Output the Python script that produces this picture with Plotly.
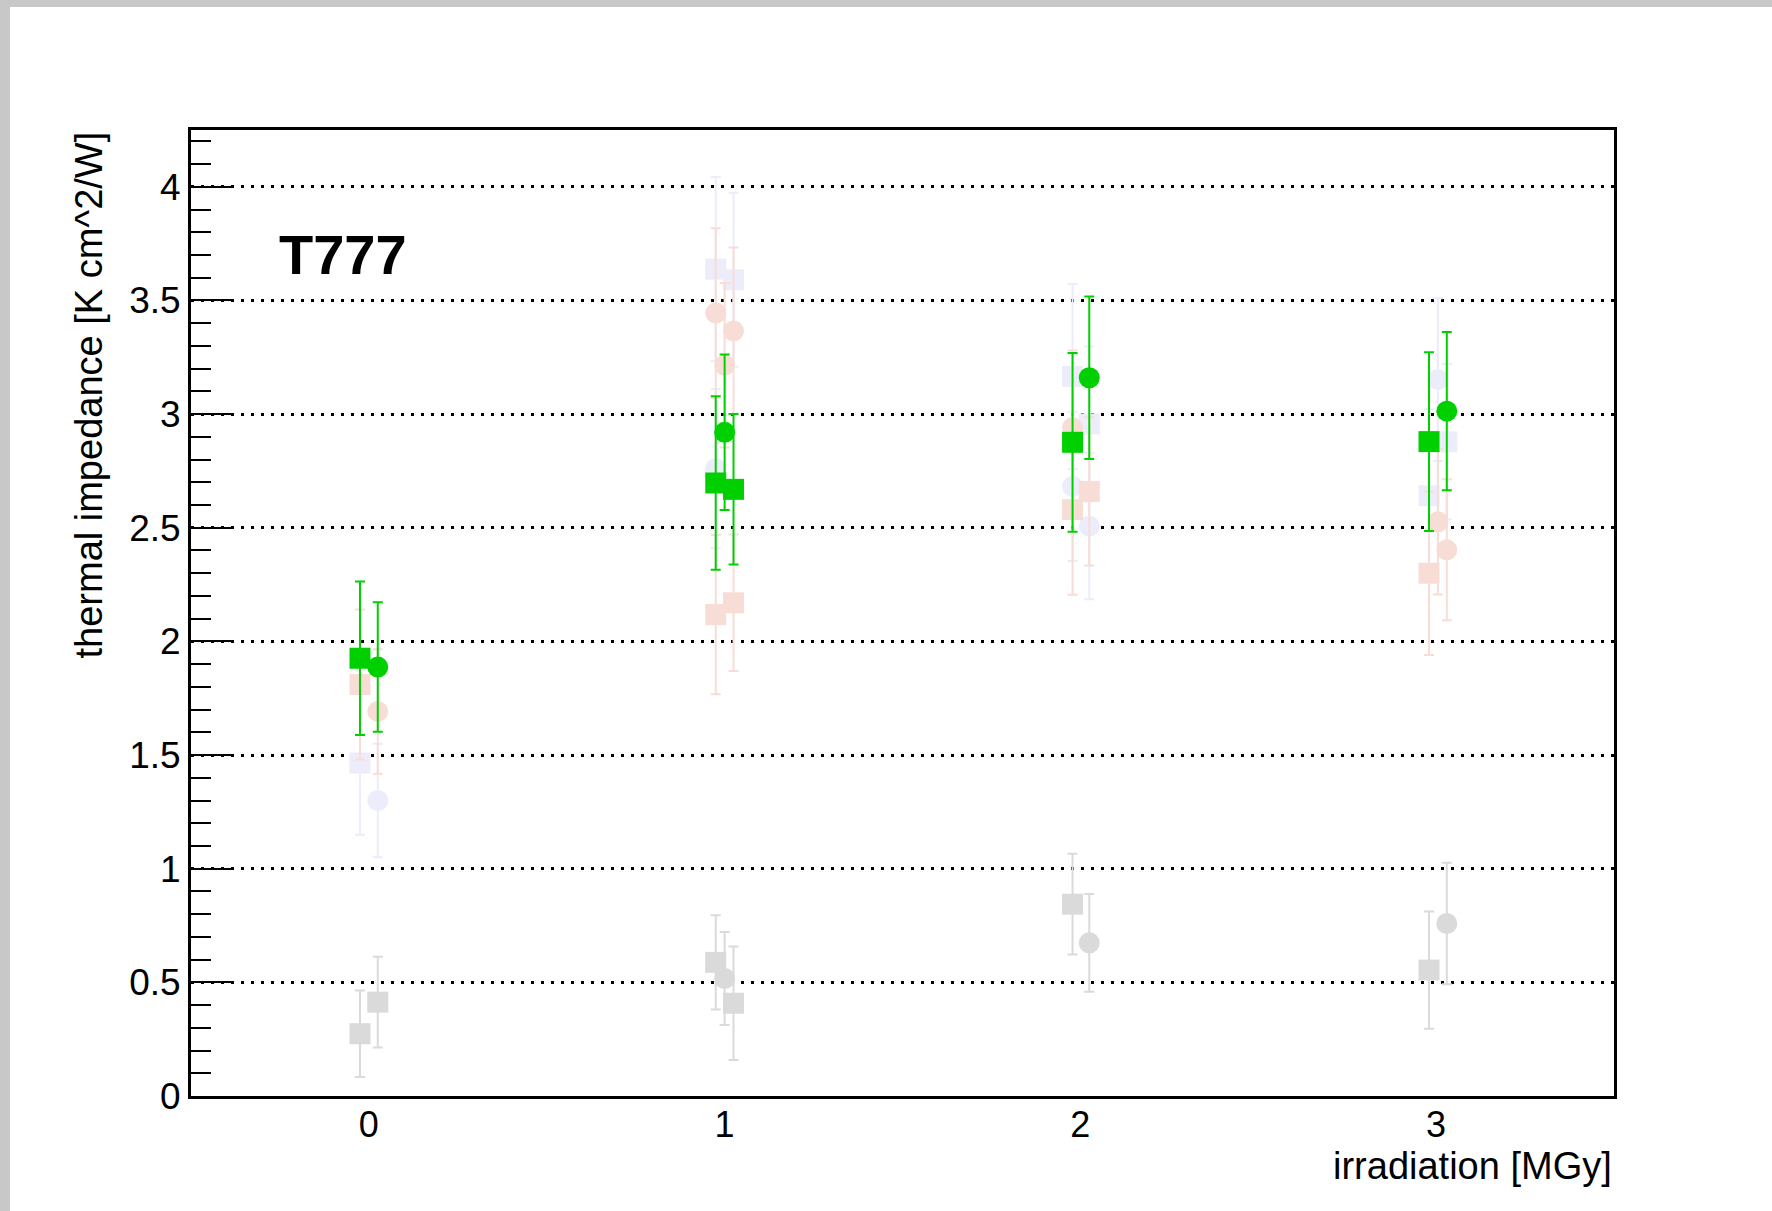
import plotly.graph_objects as go

# Irradiation dose positions (MGy) with small offsets per sample, values and errors
# T777 (highlighted)
t777_sq_x = [-0.025, 0.975, 1.025, 1.978, 2.98]
t777_sq_y = [1.926, 2.697, 2.669, 2.876, 2.879]
t777_sq_e = [0.338, 0.382, 0.331, 0.393, 0.393]

t777_ci_x = [0.025, 1.0, 2.025, 3.03]
t777_ci_y = [1.887, 2.920, 3.160, 3.013]
t777_ci_e = [0.285, 0.342, 0.357, 0.348]

# Other materials, drawn faded
red_sq_x = [-0.025, 0.975, 1.025, 1.978, 2.025, 2.98]
red_sq_y = [1.810, 2.118, 2.170, 2.580, 2.660, 2.300]
red_sq_e = [0.330, 0.350, 0.300, 0.375, 0.326, 0.360]

red_ci_x = [0.025, 0.975, 1.0, 1.025, 1.978, 3.005, 3.03]
red_ci_y = [1.692, 3.445, 3.215, 3.366, 2.940, 2.526, 2.403]
red_ci_e = [0.274, 0.373, 0.362, 0.367, 0.340, 0.320, 0.310]

blue_sq_x = [-0.025, 0.975, 1.025, 1.978, 2.025, 2.98, 3.03]
blue_sq_y = [1.465, 3.638, 3.591, 3.166, 2.957, 2.641, 2.878]
blue_sq_e = [0.316, 0.405, 0.383, 0.407, 0.341, 0.380, 0.342]

blue_ci_x = [0.025, 0.975, 1.978, 2.025, 3.005]
blue_ci_y = [1.300, 2.760, 2.682, 2.507, 3.152]
blue_ci_e = [0.250, 0.350, 0.328, 0.322, 0.358]

grey_sq_x = [-0.025, 0.025, 0.975, 1.025, 1.978, 2.98]
grey_sq_y = [0.274, 0.413, 0.588, 0.408, 0.844, 0.554]
grey_sq_e = [0.190, 0.200, 0.207, 0.250, 0.222, 0.258]

grey_ci_x = [1.0, 2.025, 3.03]
grey_ci_y = [0.517, 0.674, 0.759]
grey_ci_e = [0.205, 0.215, 0.267]

x_ticks = [0, 1, 2, 3]
x_ticklabels = ["0", "1", "2", "3"]

FONT = "Liberation Sans, Arial, Helvetica, sans-serif"


def points(x, y, e, color, symbol):
    return go.Scatter(
        x=x, y=y, mode="markers",
        marker=dict(symbol=symbol, size=21, color=color, line=dict(width=0)),
        error_y=dict(type="data", array=e, visible=True, color=color,
                     thickness=2, width=5),
        showlegend=False, hoverinfo="skip",
    )


fig = go.Figure()
fig.add_trace(points(grey_sq_x, grey_sq_y, grey_sq_e, "#dadada", "square"))
fig.add_trace(points(grey_ci_x, grey_ci_y, grey_ci_e, "#dadada", "circle"))
fig.add_trace(points(blue_sq_x, blue_sq_y, blue_sq_e, "#ececfb", "square"))
fig.add_trace(points(blue_ci_x, blue_ci_y, blue_ci_e, "#ececfb", "circle"))
fig.add_trace(points(red_sq_x, red_sq_y, red_sq_e, "#f8ddd6", "square"))
fig.add_trace(points(red_ci_x, red_ci_y, red_ci_e, "#f8ddd6", "circle"))
fig.add_trace(points(t777_sq_x, t777_sq_y, t777_sq_e, "#00d000", "square"))
fig.add_trace(points(t777_ci_x, t777_ci_y, t777_ci_e, "#00d000", "circle"))

ML, MR, MT, MB = 191, 158, 130, 115
W, H = 1772, 1211
PW, PH = W - ML - MR, H - MT - MB


def px(xp):
    return (xp - ML) / PW


def py(yp):
    return (H - MB - yp) / PH


fig.update_layout(
    width=W, height=H,
    margin=dict(l=ML, r=MR, t=MT, b=MB, pad=0),
    paper_bgcolor="white", plot_bgcolor="white",
    font=dict(family=FONT, color="black", size=37),
    xaxis=dict(
        range=[-0.5, 3.5], tickmode="array", tickvals=x_ticks,
        ticktext=x_ticklabels, ticks="", showgrid=False, zeroline=False,
        showline=True, linecolor="black", linewidth=3, mirror=True,
        tickfont=dict(size=36), ticklabelstandoff=-5,
    ),
    yaxis=dict(
        range=[0, 4.25], tick0=0, dtick=0.5, ticks="inside", ticklen=40,
        tickwidth=2, tickcolor="black",
        minor=dict(dtick=0.1, ticks="inside", ticklen=20, tickwidth=2,
                   tickcolor="black", showgrid=False),
        showgrid=True, gridcolor="black", gridwidth=2.5, griddash="3px,7px",
        zeroline=False, showline=True, linecolor="black", linewidth=3,
        mirror=True, tickfont=dict(size=37),
    ),
    shapes=[
        # grey window border, left and top
        dict(type="rect", xref="paper", yref="paper", layer="above",
             x0=px(0), x1=px(10), y0=py(H), y1=py(0),
             fillcolor="#c8c8c8", line=dict(width=0)),
        dict(type="rect", xref="paper", yref="paper", layer="above",
             x0=px(0), x1=px(W), y0=py(7), y1=py(0),
             fillcolor="#c8c8c8", line=dict(width=0)),
    ],
    annotations=[
        dict(text="thermal impedance [K cm^2/W]", textangle=-90,
             xref="paper", yref="paper", x=px(88), y=1.0,
             xanchor="center", yanchor="top", showarrow=False,
             font=dict(size=38, family=FONT)),
        dict(text="irradiation [MGy]", xref="paper", yref="paper",
             x=1.0, y=py(1166), xanchor="right", yanchor="middle",
             showarrow=False, font=dict(size=38, family=FONT)),
        dict(text="<b>T777</b>", xref="paper", yref="paper",
             x=px(277), y=py(254), xanchor="left", yanchor="middle",
             showarrow=False, font=dict(size=56, family=FONT)),
    ],
)

fig.write_html("out.html")
